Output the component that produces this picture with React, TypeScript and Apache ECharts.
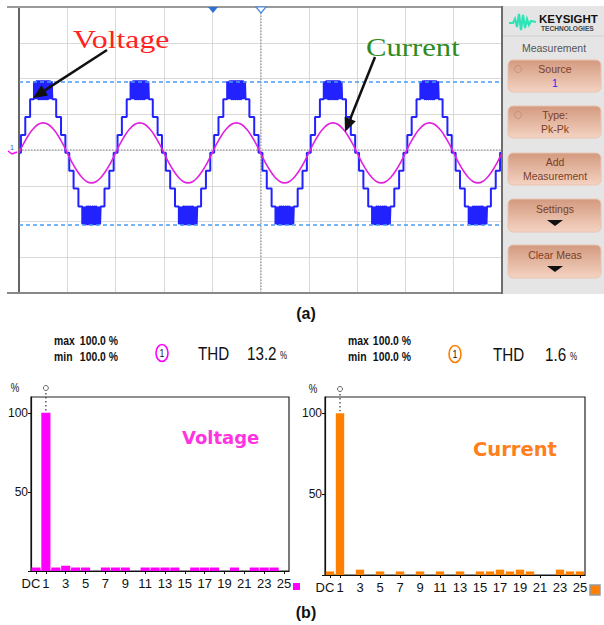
import React, { useEffect, useRef } from "react";
import * as echarts from "echarts";

// ---------- DATA ----------
// Harmonic spectrum categories (DC, 1..25)
const HARMONIC_LABELS = [
  "DC", "1", "2", "3", "4", "5", "6", "7", "8", "9", "10", "11", "12",
  "13", "14", "15", "16", "17", "18", "19", "20", "21", "22", "23", "24", "25",
];
// Voltage harmonic magnitudes (% of fundamental)
const VOLTAGE_HARMONICS = [
  2.2, 100, 2.2, 3.3, 2.2, 2.2, 0, 2.2, 2.2, 2.2, 0, 2.2, 2.2,
  2.2, 2.2, 0, 2.2, 2.2, 2.2, 0, 2.2, 0, 2.2, 2.2, 2.2, 0,
];
// Current harmonic magnitudes (% of fundamental)
const CURRENT_HARMONICS = [
  2.2, 100, 0, 3.3, 0, 2.2, 0, 2.2, 0, 2.2, 0, 2.2, 0,
  2.2, 0, 2.2, 2.2, 3.3, 2.2, 3.3, 2.2, 0, 0, 3.3, 2.2, 2.2,
];
const THD_VOLTAGE = "13.2";
const THD_CURRENT = "1.6";
const MAX_MIN = "100.0 %";

// Oscilloscope trace (time in ms, amplitude in screen divisions)
const SCOPE_TIME_MS = 100; // 10 ms/div, 10 divisions
const SCOPE_HALF_PERIOD_MS = 10;
const SCOPE_HALF_CYCLES = 10;
const TRACE_OFFSET_DIV = -0.08;
const VOLTAGE_STEP_DIV = 0.5; // one inverter level
// switching instants within a positive half-cycle: [time ms, level]
const VOLTAGE_STEP_UP = [[0.4, 1], [1.3, 2], [2.3, 3]];
const VOLTAGE_PWM_EDGES_MS = [
  3.1, 3.22, 3.32, 3.45, 3.55, 3.7, 3.8, 3.95, 4.1, 4.3, 4.45, 4.7, 4.85,
  5.15, 5.3, 5.55, 5.7, 5.9, 6.05, 6.2, 6.3, 6.45, 6.55, 6.68, 6.78, 6.9,
];
const VOLTAGE_STEP_DOWN = [[7.7, 2], [8.7, 1], [9.6, 0]];
// current samples of one 20 ms cycle, every 1 ms (divisions)
const CURRENT_CYCLE_DIV = [
  0, 0.27, 0.5, 0.68, 0.8, 0.84, 0.8, 0.68, 0.5, 0.27,
  0, -0.27, -0.5, -0.68, -0.8, -0.84, -0.8, -0.68, -0.5, -0.27,
];
const CURSOR_LEVELS_DIV = [TRACE_OFFSET_DIV + 4 * VOLTAGE_STEP_DIV, TRACE_OFFSET_DIV - 4 * VOLTAGE_STEP_DIV];

// ---------- build series from the data ----------
function buildVoltage(): number[][] {
  const events: number[][] = [
    ...VOLTAGE_STEP_UP,
    ...VOLTAGE_PWM_EDGES_MS.map((t, i) => [t, i % 2 === 0 ? 4 : 3]),
    ...VOLTAGE_STEP_DOWN,
  ];
  const pts: number[][] = [[0, TRACE_OFFSET_DIV]];
  let prev = 0;
  for (let h = 0; h < SCOPE_HALF_CYCLES; h++) {
    const sign = h % 2 === 0 ? 1 : -1;
    const base = h * SCOPE_HALF_PERIOD_MS;
    for (const [t, lvl] of events) {
      const x = base + t;
      pts.push([x, TRACE_OFFSET_DIV + sign * prev * VOLTAGE_STEP_DIV]);
      pts.push([x, TRACE_OFFSET_DIV + sign * lvl * VOLTAGE_STEP_DIV]);
      prev = lvl;
    }
  }
  pts.push([SCOPE_TIME_MS, TRACE_OFFSET_DIV]);
  return pts;
}

function buildCurrent(): number[][] {
  const pts: number[][] = [];
  const n = CURRENT_CYCLE_DIV.length;
  for (let c = 0; c < SCOPE_HALF_CYCLES / 2; c++) {
    CURRENT_CYCLE_DIV.forEach((v, i) => pts.push([c * n + i, TRACE_OFFSET_DIV + v]));
  }
  pts.push([SCOPE_TIME_MS, TRACE_OFFSET_DIV + CURRENT_CYCLE_DIV[0]]);
  return pts;
}

const SANS = "'Liberation Sans', Arial, sans-serif";
const SERIF = "'Liberation Serif', 'Times New Roman', serif";
const MAGENTA = "#ff00ff";
const ORANGE = "#ff8000";
const NARROW_SCALE = 0.8;

const labelShown = (i: number) => i === 0 || i % 2 === 1;

function txt(text: string, x: number, y: number, o: any = {}) {
  const { align = "left", v = "middle", size = 12, family = SANS, weight = "normal", fill = "#111", scaleX = 1, z = 20 } = o;
  return {
    type: "text",
    x,
    y,
    scaleX,
    z,
    silent: true,
    style: {
      text,
      x: 0,
      y: 0,
      fill,
      fontSize: size,
      fontFamily: family,
      fontWeight: weight,
      textAlign: align,
      textVerticalAlign: v,
      align,
      verticalAlign: v,
    },
  };
}
const narrow = (text: string, x: number, y: number, o: any = {}) => txt(text, x, y, { scaleX: NARROW_SCALE, ...o });

function arrow(x1: number, y1: number, x2: number, y2: number) {
  const head = 14, half = 6;
  const dx = x2 - x1, dy = y2 - y1;
  const L = Math.hypot(dx, dy);
  const ux = dx / L, uy = dy / L;
  const bx = x2 - ux * head, by = y2 - uy * head;
  const px = -uy, py = ux;
  return [
    { type: "line", z: 30, silent: true, shape: { x1, y1, x2: bx, y2: by }, style: { stroke: "#111", lineWidth: 2.5 } },
    {
      type: "polygon", z: 30, silent: true,
      shape: { points: [[x2, y2], [bx + px * half, by + py * half], [bx - px * half, by - py * half]] },
      style: { fill: "#111" },
    },
  ];
}

function button(y: number, h: number, line1: string, line2: string | null, opts: any = {}) {
  const els: any[] = [
    {
      type: "rect", z: 15, silent: true,
      shape: { x: 508, y, width: 93, height: h, r: 5 },
      style: {
        fill: new echarts.graphic.LinearGradient(0, 0, 0, 1, [
          { offset: 0, color: "#d39a7f" },
          { offset: 1, color: "#f4d3c2" },
        ]),
        stroke: "#e8c4b2",
        lineWidth: 1,
      },
    },
  ];
  if (opts.icon) {
    els.push({ type: "circle", z: 16, silent: true, shape: { cx: 518, cy: y + 9, r: 3.5 }, style: { fill: "none", stroke: "#c8917a", lineWidth: 1 } });
  }
  if (line2 === null) {
    els.push(txt(line1, 555, y + 10, { align: "center", size: 10.5, fill: "#7b3f27" }));
    els.push({ type: "polygon", z: 16, silent: true, shape: { points: [[547, y + 21], [563, y + 21], [555, y + 27]] }, style: { fill: "#111" } });
  } else {
    els.push(txt(line1, 555, y + 9, { align: "center", size: 10.5, fill: "#7b3f27" }));
    els.push(txt(line2, 555, y + 23, { align: "center", size: 10.5, fill: opts.blue ? "#2a2aff" : "#7b3f27" }));
  }
  return els;
}

export default function App() {
  const ref = useRef<HTMLDivElement>(null);
  useEffect(() => {
    const chart = echarts.init(ref.current!, null, { renderer: "svg", width: 604, height: 625 });

    const barXAxis = (gridIndex: number) => ({
      type: "category",
      gridIndex,
      data: HARMONIC_LABELS,
      axisLine: { show: true, lineStyle: { color: "#111", width: 1.2 } },
      axisTick: { show: true, alignWithLabel: true, interval: (i: number) => labelShown(i), length: 3, lineStyle: { color: "#111" } },
      axisLabel: {
        interval: (i: number) => labelShown(i),
        showMinLabel: true,
        showMaxLabel: true,
        hideOverlap: false,
        fontSize: 13,
        fontFamily: SANS,
        color: "#111",
        margin: 6,
        formatter: (v: string) => (v === "DC" ? "{dc|DC}" : v),
        rich: { dc: { fontSize: 13, fontFamily: SANS, color: "#111", padding: [0, 10, 0, 0] } },
      },
      splitLine: { show: false },
    });
    const barYAxis = (gridIndex: number) => ({
      type: "value",
      gridIndex,
      min: 0,
      max: 110,
      interval: 50,
      axisLine: { show: true, lineStyle: { color: "#111", width: 1.2 } },
      axisTick: { show: true, length: 3, lineStyle: { color: "#111" } },
      axisLabel: {
        fontSize: 12, fontFamily: SANS, color: "#111", margin: 3,
        showMaxLabel: false,
        formatter: (v: number) => (v === 0 ? "" : String(v)),
      },
      splitLine: { show: false },
    });

    chart.setOption({
      animation: false,
      backgroundColor: "#ffffff",
      grid: [
        { left: 19, top: 7, width: 483, height: 286, show: true, borderColor: "#8c8c8c", borderWidth: 1.5, backgroundColor: "#ffffff" },
        { left: 31, top: 397, width: 258, height: 174, show: true, borderColor: "#222", borderWidth: 1.2 },
        { left: 325, top: 397, width: 260, height: 178, show: true, borderColor: "#222", borderWidth: 1.2 },
      ],
      xAxis: [
        {
          type: "value", gridIndex: 0, min: 0, max: SCOPE_TIME_MS, interval: 10,
          axisLabel: { show: false }, axisTick: { show: false },
          axisLine: { show: true, onZero: false, lineStyle: { color: "#777", width: 2 } },
          splitLine: { show: true, lineStyle: { color: "#d9d9d9", width: 1 } },
        },
        barXAxis(1),
        barXAxis(2),
      ],
      yAxis: [
        {
          type: "value", gridIndex: 0, min: -4, max: 4, interval: 1,
          axisLabel: { show: false }, axisTick: { show: false },
          axisLine: { show: true, onZero: false, lineStyle: { color: "#666", width: 2 } },
          splitLine: { show: true, lineStyle: { color: "#d9d9d9", width: 1 } },
        },
        barYAxis(1),
        barYAxis(2),
      ],
      series: [
        {
          type: "line", name: "Voltage", xAxisIndex: 0, yAxisIndex: 0,
          data: buildVoltage(), showSymbol: false, silent: true, z: 3,
          lineStyle: { color: "#2222ff", width: 2 },
          markLine: {
            silent: true, symbol: "none", label: { show: false }, z: 5,
            lineStyle: { color: "#4a9af5", type: [4, 3], width: 1.5 },
            data: CURSOR_LEVELS_DIV.map((v) => ({ yAxis: v })),
          },
        },
        {
          type: "line", name: "Current", xAxisIndex: 0, yAxisIndex: 0,
          data: buildCurrent(), showSymbol: false, silent: true, smooth: true, z: 4,
          lineStyle: { color: "#e022e0", width: 1.6 },
          markLine: {
            silent: true, symbol: "none", label: { show: false }, z: 1,
            lineStyle: { color: "#a8a8a8", type: "dotted", width: 1.5 },
            data: [{ xAxis: SCOPE_TIME_MS / 2 }, { yAxis: 0 }],
          },
        },
        {
          type: "bar", name: "Voltage harmonics", xAxisIndex: 1, yAxisIndex: 1,
          data: VOLTAGE_HARMONICS, barCategoryGap: "8%", silent: true,
          itemStyle: { color: MAGENTA },
        },
        {
          type: "bar", name: "Current harmonics", xAxisIndex: 2, yAxisIndex: 2,
          data: CURRENT_HARMONICS, barCategoryGap: "16%", silent: true,
          itemStyle: { color: ORANGE },
        },
      ],
    });

    const v1 = chart.convertToPixel({ seriesIndex: 2 }, [1, 100]) as number[];
    const c1 = chart.convertToPixel({ seriesIndex: 3 }, [1, 100]) as number[];

    const graphics: any[] = [
      // scope frame extras
      { type: "line", z: 5, silent: true, shape: { x1: 7, y1: 293, x2: 502, y2: 293 }, style: { stroke: "#888", lineWidth: 2 } },
      { type: "line", z: 5, silent: true, shape: { x1: 7, y1: 7, x2: 502, y2: 7 }, style: { stroke: "#999", lineWidth: 2 } },
      { type: "line", z: 5, silent: true, shape: { x1: 502, y1: 6, x2: 502, y2: 294 }, style: { stroke: "#6d6d6d", lineWidth: 2 } },
      // trigger markers
      { type: "polygon", z: 6, silent: true, shape: { points: [[208, 7], [218, 7], [213, 13]] }, style: { fill: "#2f6fd8" } },
      { type: "polygon", z: 6, silent: true, shape: { points: [[256, 7], [266, 7], [261, 13]] }, style: { fill: "#fff", stroke: "#4a8ae0", lineWidth: 1.2 } },
      // channel marker
      txt("1", 12, 147, { size: 7, fill: "#3050d0", align: "center" }),
      { type: "polyline", z: 6, silent: true, shape: { points: [[8, 151], [12, 154], [17, 152]] }, style: { stroke: MAGENTA, lineWidth: 1.5, fill: "none" } },
      // annotations
      txt("Voltage", 73, 40, { size: 25, family: SERIF, fill: "#ff2222", scaleX: 1.27, z: 30 }),
      txt("Current", 366, 47, { size: 26, family: SERIF, fill: "#2f8a1c", scaleX: 1.18, z: 30 }),
      ...arrow(107, 50, 33, 98),
      ...arrow(375, 57, 345, 132),
      // right panel
      { type: "rect", z: 10, silent: true, shape: { x: 503, y: 6, width: 101, height: 288 }, style: { fill: "#e5e5e5" } },
      {
        type: "polyline", z: 16, silent: true,
        shape: { points: [[509, 23], [513, 23], [515, 19], [517, 27], [519, 14], [521, 30], [523, 15], [525, 28], [527, 19], [529, 25], [531, 21], [536, 22]] },
        style: { stroke: "#2ee3b6", lineWidth: 2.2, fill: "none" },
      },
      txt("KEYSIGHT", 539, 19, { size: 11.5, weight: "bold", fill: "#111" }),
      txt("TECHNOLOGIES", 541, 28.5, { size: 6.3, weight: "bold", fill: "#444", scaleX: 1.05 }),
      { type: "line", z: 16, silent: true, shape: { x1: 503, y1: 36, x2: 604, y2: 36 }, style: { stroke: "#cfcfcf", lineWidth: 1 } },
      txt("Measurement", 554, 48, { size: 10.5, fill: "#555", align: "center" }),
      ...button(60, 32, "Source", "1", { icon: true, blue: true }),
      ...button(106, 32, "Type:", "Pk-Pk", { icon: true }),
      ...button(153, 32, "Add", "Measurement"),
      ...button(199, 33, "Settings", null),
      ...button(245, 33, "Clear Meas", null),
      // captions
      txt("(a)", 306, 313, { size: 16, weight: "bold", align: "center" }),
      txt("(b)", 306, 612, { size: 16, weight: "bold", align: "center" }),
      // voltage spectrum header
      narrow("max", 54, 340, { size: 13, weight: "bold" }),
      narrow("min", 54, 356, { size: 13, weight: "bold" }),
      narrow(MAX_MIN, 118, 340, { size: 13, weight: "bold", align: "right" }),
      narrow(MAX_MIN, 118, 356, { size: 13, weight: "bold", align: "right" }),
      { type: "ellipse", z: 20, silent: true, shape: { cx: 162, cy: 353, rx: 6, ry: 8.5 }, style: { fill: "none", stroke: MAGENTA, lineWidth: 1.6 } },
      narrow("1", 162, 353.5, { size: 11, align: "center" }),
      narrow("THD", 198, 353, { size: 19 }),
      narrow(THD_VOLTAGE, 247, 353, { size: 19 }),
      narrow("%", 280, 356, { size: 10 }),
      narrow("%", 15, 388, { size: 12, align: "center" }),
      { type: "circle", z: 20, silent: true, shape: { cx: v1[0], cy: 388, r: 2.5 }, style: { fill: "#fff", stroke: "#666", lineWidth: 1 } },
      { type: "line", z: 20, silent: true, shape: { x1: v1[0], y1: 393, x2: v1[0], y2: v1[1] - 2 }, style: { stroke: "#333", lineWidth: 1.2, lineDash: [1.5, 2.5] } },
      txt("Voltage", 182, 437, { size: 18, weight: "bold", family: "'DejaVu Sans', Verdana, sans-serif", fill: "#ff33e0" }),
      { type: "rect", z: 20, silent: true, shape: { x: 293, y: 583, width: 7, height: 7 }, style: { fill: MAGENTA } },
      // current spectrum header
      narrow("max", 348, 340, { size: 13, weight: "bold" }),
      narrow("min", 348, 356, { size: 13, weight: "bold" }),
      narrow(MAX_MIN, 411, 340, { size: 13, weight: "bold", align: "right" }),
      narrow(MAX_MIN, 411, 356, { size: 13, weight: "bold", align: "right" }),
      { type: "ellipse", z: 20, silent: true, shape: { cx: 455, cy: 354, rx: 6, ry: 8.5 }, style: { fill: "none", stroke: ORANGE, lineWidth: 1.6 } },
      narrow("1", 455, 354.5, { size: 11, align: "center" }),
      narrow("THD", 493, 354, { size: 19 }),
      narrow(THD_CURRENT, 545, 354, { size: 19 }),
      narrow("%", 570, 357, { size: 10 }),
      narrow("%", 313, 389, { size: 12, align: "center" }),
      { type: "circle", z: 20, silent: true, shape: { cx: c1[0], cy: 389, r: 2.5 }, style: { fill: "#fff", stroke: "#666", lineWidth: 1 } },
      { type: "line", z: 20, silent: true, shape: { x1: c1[0], y1: 394, x2: c1[0], y2: c1[1] - 2 }, style: { stroke: "#333", lineWidth: 1.2, lineDash: [1.5, 2.5] } },
      txt("Current", 473, 449, { size: 19.5, weight: "bold", family: "'DejaVu Sans', Verdana, sans-serif", fill: "#ff7f1e" }),
      { type: "rect", z: 20, silent: true, shape: { x: 590, y: 585, width: 10, height: 10 }, style: { fill: ORANGE, stroke: "#999", lineWidth: 1.5 } },
    ];
    chart.setOption({ graphic: graphics });

    return () => chart.dispose();
  }, []);
  return <div ref={ref} style={{ position: "absolute", left: 0, top: 0, width: 604, height: 625 }} />;
}
